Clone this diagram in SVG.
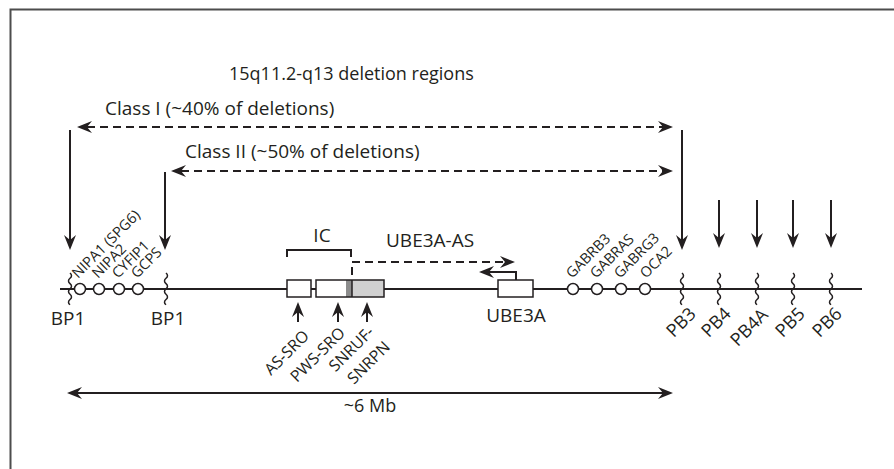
<svg xmlns="http://www.w3.org/2000/svg" width="894" height="469" viewBox="0 0 894 469">
<style>
text{font-family:"Open Sans","Noto Sans",sans-serif;fill:#231f20}
.t19{font-size:19px}
.t18{font-size:18px}
.g{font-size:14.5px}
.s{font-size:16px}
.ln{stroke:#231f20;stroke-width:2;fill:none}
.ds{stroke:#231f20;stroke-width:2;fill:none;stroke-dasharray:8 5}
.cir{fill:#fff;stroke:#231f20;stroke-width:1.5}
.sq{stroke:#231f20;stroke-width:1.5;fill:none}
.box{stroke:#231f20;stroke-width:1.5}
</style>
<defs>
<marker id="ah" markerUnits="userSpaceOnUse" markerWidth="20" markerHeight="16" viewBox="-6 -8 20 16" refX="0" refY="0" orient="auto-start-reverse" overflow="visible">
<path d="M10,0 L-5,-6 L0,0 L-5,6 Z" fill="#231f20"/>
</marker>
<path id="squig" d="M0,-16 q3,2.7 0,5.3 q-3,2.7 0,5.3 q3,2.7 0,5.3 q-3,2.7 0,5.3 q3,2.7 0,5.3 q-3,2.7 0,5.3" class="sq"/>
</defs>
<rect x="10.5" y="9.5" width="900" height="480" fill="none" stroke="#4d4d4d" stroke-width="2"/>
<text id="title" x="229" y="80" class="t18">15q11.2-q13 deletion regions</text>
<g id="connectors">
<line class="ds" x1="87" y1="127" x2="663" y2="127" marker-start="url(#ah)" marker-end="url(#ah)"/>
<line class="ds" x1="181" y1="171" x2="663" y2="171" marker-start="url(#ah)" marker-end="url(#ah)"/>
<line class="ln" x1="70" y1="130" x2="70" y2="240" marker-end="url(#ah)"/>
<line class="ln" x1="165" y1="172" x2="165" y2="240" marker-end="url(#ah)"/>
<line class="ln" x1="682" y1="130" x2="682" y2="240" marker-end="url(#ah)"/>
<line class="ln" x1="719" y1="200" x2="719" y2="238" marker-end="url(#ah)"/>
<line class="ln" x1="757" y1="200" x2="757" y2="238" marker-end="url(#ah)"/>
<line class="ln" x1="793" y1="200" x2="793" y2="238" marker-end="url(#ah)"/>
<line class="ln" x1="831" y1="200" x2="831" y2="238" marker-end="url(#ah)"/>
<path class="ds" d="M352,275 V262 H505" marker-end="url(#ah)"/>
<path class="ln" d="M516,280 V272 H489" marker-end="url(#ah)"/>
<line class="ln" x1="298" y1="322" x2="298" y2="312" marker-end="url(#ah)"/>
<line class="ln" x1="338" y1="322" x2="338" y2="312" marker-end="url(#ah)"/>
<line class="ln" x1="367" y1="322" x2="367" y2="312" marker-end="url(#ah)"/>
<line class="ln" x1="77" y1="393" x2="663" y2="393" marker-start="url(#ah)" marker-end="url(#ah)"/>
<path class="ln" d="M287,257 V250 H351 V257"/>
</g>
<text class="t19" x="105" y="115">Class I (~40% of deletions)</text>
<text class="t19" x="185" y="158">Class II (~50% of deletions)</text>
<g id="chromosome">
<line class="ln" x1="60" y1="289" x2="862" y2="289"/>
</g>
<g id="bp1a"><use href="#squig" x="70" y="289"/><text class="t19" x="68" y="325" text-anchor="middle">BP1</text></g>
<g id="bp1b"><use href="#squig" x="166" y="289"/><text class="t19" x="168" y="325" text-anchor="middle">BP1</text></g>
<g id="nipa1"><circle class="cir" cx="80" cy="289" r="5.5"/><text class="g" transform="translate(78,279) rotate(-45)">NIPA1 (SPG6)</text></g>
<g id="nipa2"><circle class="cir" cx="99" cy="289" r="5.5"/><text class="g" transform="translate(98,279) rotate(-45)">NIPA2</text></g>
<g id="cyfip1"><circle class="cir" cx="119" cy="289" r="5.5"/><text class="g" transform="translate(118,279) rotate(-45)">CYFIP1</text></g>
<g id="gcps"><circle class="cir" cx="138" cy="289" r="5.5"/><text class="g" transform="translate(137,279) rotate(-45)">GCPS</text></g>
<g id="ic"><text class="t19" x="322" y="242" text-anchor="middle">IC</text></g>
<g id="as-sro"><rect class="box" x="287" y="280" width="24" height="17" fill="#fff"/><text class="s" text-anchor="end" transform="translate(310,337) rotate(-45)">AS-SRO</text></g>
<g id="pws-sro"><rect x="316" y="280" width="30" height="17" fill="#fff"/><rect x="346" y="280" width="6" height="17" fill="#8c8c8c"/><rect x="352" y="280" width="32" height="17" fill="#d0d0d0"/><rect class="box" x="316" y="280" width="68" height="17" fill="none"/><line x1="352" y1="280" x2="352" y2="297" stroke="#231f20" stroke-width="1.5"/><text class="s" text-anchor="end" transform="translate(346,334) rotate(-45)">PWS-SRO</text></g>
<g id="snrpn"><text class="s" text-anchor="end" transform="translate(375,333) rotate(-45)">SNRUF-</text><text class="s" text-anchor="end" transform="translate(391,348) rotate(-45)">SNRPN</text></g>
<g id="ube3a-as"><text class="t19" x="386" y="247">UBE3A-AS</text></g>
<g id="ube3a"><rect class="box" x="498" y="280" width="35" height="17" fill="#fff"/><text class="t19" x="516" y="322" text-anchor="middle">UBE3A</text></g>
<g id="gabrb3"><circle class="cir" cx="573" cy="289" r="5.5"/><text class="g" transform="translate(572,279) rotate(-45)">GABRB3</text></g>
<g id="gabras"><circle class="cir" cx="597" cy="289" r="5.5"/><text class="g" transform="translate(596,279) rotate(-45)">GABRAS</text></g>
<g id="gabrg3"><circle class="cir" cx="621" cy="289" r="5.5"/><text class="g" transform="translate(620,279) rotate(-45)">GABRG3</text></g>
<g id="oca2"><circle class="cir" cx="645" cy="289" r="5.5"/><text class="g" transform="translate(646,279) rotate(-45)">OCA2</text></g>
<g id="pb3"><use href="#squig" x="682" y="289"/><text class="t18" text-anchor="end" transform="translate(697,315) rotate(-45)">PB3</text></g>
<g id="pb4"><use href="#squig" x="719" y="289"/><text class="t18" text-anchor="end" transform="translate(732,315) rotate(-45)">PB4</text></g>
<g id="pb4a"><use href="#squig" x="757" y="289"/><text class="t18" text-anchor="end" transform="translate(769,316) rotate(-45)">PB4A</text></g>
<g id="pb5"><use href="#squig" x="793" y="289"/><text class="t18" text-anchor="end" transform="translate(806,315) rotate(-45)">PB5</text></g>
<g id="pb6"><use href="#squig" x="831" y="289"/><text class="t18" text-anchor="end" transform="translate(843,315) rotate(-45)">PB6</text></g>
<g id="size"><text class="t18" x="370" y="412" text-anchor="middle">~6 Mb</text></g>
</svg>
